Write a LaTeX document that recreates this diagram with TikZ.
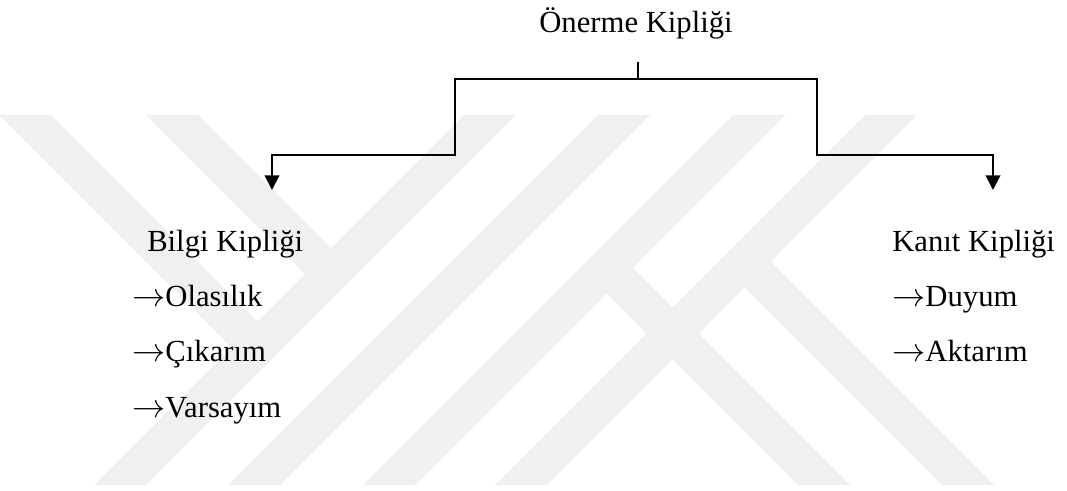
\documentclass[tikz,border=0pt]{standalone}
\usepackage{fontspec}
\setmainfont{Liberation Serif}
\usetikzlibrary{arrows.meta}
\definecolor{markgray}{RGB}{240,240,240}
\newcommand{\itemarrow}{\ensuremath{\rightarrow}}
\begin{document}
\begin{tikzpicture}[x=0.75pt,y=-0.75pt,
  conn/.style={line width=1.5pt, line join=miter},
  stub/.style={line width=0.9pt},
  tipdown/.style={-{Triangle[length=11pt,width=11pt]}},
  lbl/.style={anchor=base west, inner sep=0pt, font=\fontsize{23}{27}\selectfont},
  ttl/.style={anchor=base, inner sep=0pt, font=\fontsize{23}{27}\selectfont},
  band/.style={fill=markgray, draw=none}]
\useasboundingbox (0,0) rectangle (1067,491);

% faint diagonal background bands
\begin{scope}
  \clip (0,0) rectangle (1067,491);
  % bands falling to the left
  \fill[band] (464,115) -- (516,115) -- (146,485) -- (94,485) -- cycle;
  \fill[band] (598,115) -- (650,115) -- (280,485) -- (228,485) -- cycle;
  \fill[band] (733,115) -- (785,115) -- (415,485) -- (363,485) -- cycle;
  \fill[band] (865,115) -- (917,115) -- (547,485) -- (495,485) -- cycle;
  % bands falling to the right
  \fill[band] (-1,115) -- (51,115) -- (257.5,321.5) -- (231.5,347.5) -- cycle;
  \fill[band] (146,115) -- (198,115) -- (344,261) -- (318,287) -- cycle;
  \fill[band] (619.5,254.5) -- (593.5,280.5) -- (798,485) -- (850,485) -- cycle;
  \fill[band] (757.5,248.5) -- (731.5,274.5) -- (942,485) -- (994,485) -- cycle;
\end{scope}

% labels
\node[ttl] (title) at (636,33) {Önerme Kipliği};
\node[lbl] (bilgi) at (147,252) {Bilgi Kipliği};
\node[lbl] (olas)  at (132,307) {\itemarrow Olasılık};
\node[lbl] (cika)  at (132,362) {\itemarrow Çıkarım};
\node[lbl] (vars)  at (132,417) {\itemarrow Varsayım};
\node[lbl] (kanit) at (892,252) {Kanıt Kipliği};
\node[lbl] (duyum) at (892,307) {\itemarrow Duyum};
\node[lbl] (aktar) at (892,362) {\itemarrow Aktarım};

% fork points
\coordinate (stubtop) at (638,62);
\coordinate (fork)    at (638,79);
\coordinate (lknee)   at (455,155);
\coordinate (ltip)    at (272,190);
\coordinate (rknee)   at (817,155);
\coordinate (rtip)    at (993,190);

% connectors
\draw[stub] (stubtop) -- (fork);
\draw[conn,tipdown] (fork) -| (lknee) -| (ltip);
\draw[conn,tipdown] (fork) -| (rknee) -| (rtip);
\end{tikzpicture}
\end{document}
